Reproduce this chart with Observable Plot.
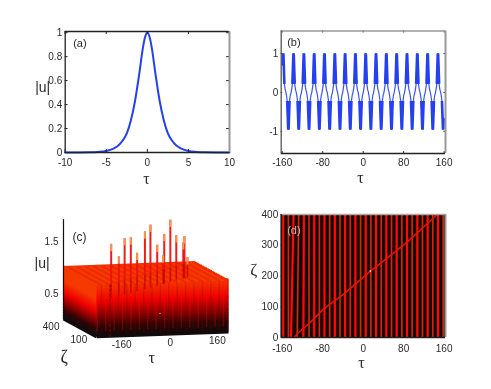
<!DOCTYPE html>
<html>
<head>
<meta charset="utf-8">
<script src="https://cdn.jsdelivr.net/npm/d3@7"></script>
<script src="https://cdn.jsdelivr.net/npm/@observablehq/plot@0.6"></script>
<style>
html,body{margin:0;padding:0;background:#fff}
#chart{position:relative;width:491px;height:389px;overflow:hidden}
#chart>svg{position:absolute;filter:blur(0.3px);background:transparent}
</style>
</head>
<body>
<div id="chart"></div>
<script>
// (a) soliton profile
const tauA = [-10,-7,-6,-5,-4,-3.5,-3,-2.5,-2,-1.5,-1,-0.5,-0.25,0,0.25,0.5,1,1.5,2,2.5,3,3.5,4,5,6,7,10];
const uA   = [0,0.002,0.005,0.013,0.037,0.06,0.1,0.16,0.27,0.43,0.65,0.89,0.97,1,0.97,0.89,0.65,0.43,0.27,0.16,0.1,0.06,0.037,0.013,0.005,0.002,0];
const xTicksA = [-10,-5,0,5,10];
const yTicksA = [0,0.2,0.4,0.6,0.8,1];

// (b) periodic wave: positions of the alternating maxima and minima, and one lobe's shape
const extremes = [-158,-147.8,-137.6,-127.4,-117.2,-107,-96.8,-86.6,-76.5,-66.2,-56,-45.8,-35.7,-25.5,-15.3,-5.1,5,15.2,25.4,35.6,45.8,56,66.2,76.4,86.6,96.8,107,117.2,127.4,137.6,147.8,158];
const lobeOffset = [-5.1,-4,-3,-2.3,-1.1,-0.4,0,0.4,1.1,2.3,3,4];
const lobeValue  = [-0.02,0.06,0.15,0.22,0.7,0.98,1,0.98,0.7,0.22,0.15,0.06];
const xTicksB = [-160,-80,0,80,160];
const yTicksB = [-1,0,1];

// (c) collisions: spikes along the moving soliton
const spikeTau  = [-120,-94,-74,-53,-31.5,-5,14,37,57.5,61,82,102,126,130,140];
const spikeZeta = [22,59,89,119,150,188,216,249,279,284,315,343,378,384,398];
const spikeU    = [1.77,1.49,1.81,1.79,1.46,1.83,1.93,1.51,1.27,1.68,1.92,1.59,1.42,1.53,1.11];
const levels = [0,0.03,0.06,0.09,0.12,0.15,0.18,0.21,0.24,0.27,0.3,0.33,0.36,0.39,0.42,0.45,0.48,0.51,0.54,0.57,0.6,0.63,0.66,0.69,0.72,0.75,0.78,0.81,0.84,0.87,0.9,0.93,0.96,1];
const zetaRows = [0,20,40,60,80,100,120,140,160,180,200,220,240,260,280,300,320,340,360,380,400];
const yTicksC = [0.5,1.5];
const zetaLabelsC = [{z:400,t:"400",shift:-4},{z:100,t:"100",shift:-1}];
const tauLabelsC = [{at:-99,t:"-160"},{at:19,t:"0"},{at:133,t:"160"}];

// (d) top view
const lineDrift = [0,0,-5,-3,-1,0,0,0,0,0,0,0,0,0,0,0,0,0,0,0,0,0,0,0,0,0,0,0,0,0,0,0];
const diagTau  = [-137,-127,-104,-78,-38,-5,14.5,54,87,126.6,144];
const diagZeta = [0,17,50,93,142,188,216,267,310,370,397];
const xTicksD = [-160,-80,0,80,160];
const yTicksD = [0,100,200,300,400];

const SANS = "'Liberation Sans',Arial,sans-serif";
const SERIF = "'Liberation Serif','DejaVu Serif',serif";
const INK = "#2a2a2a";
const root = document.getElementById("chart");
function place(svg,left,top){svg.style.left=left+"px";svg.style.top=top+"px";root.appendChild(svg);}
function label(t,frame,dx,dy,size,font,fill){
  return Plot.text([t],{text:d=>d,frameAnchor:frame,dx,dy,fontSize:size,fontFamily:font,fill:fill||INK});
}
function frameMarks(xd,yd,xt,yt,c,tx,ty){
  return [
    Plot.ruleX(xt,{y1:yd[0],y2:yd[0]+ty,stroke:"#222"}),
    Plot.ruleX(xt,{y1:yd[1],y2:yd[1]-ty,stroke:"#222"}),
    Plot.ruleY(yt,{x1:xd[0],x2:xd[0]+tx,stroke:"#222"}),
    Plot.ruleY(yt,{x1:xd[1],x2:xd[1]-tx,stroke:"#222"}),
    Plot.ruleY([yd[1]],{stroke:c.top,strokeWidth:1.3}),
    Plot.ruleX([xd[1]],{stroke:c.right,strokeWidth:2}),
    Plot.ruleX([xd[0]],{stroke:c.left,strokeWidth:1.3}),
    Plot.ruleY([yd[0]],{stroke:c.bottom,strokeWidth:1.3})
  ];
}
function axes(xt,yt,pad){
  return [
    Plot.axisX(xt,{anchor:"bottom",tickSize:0,tickPadding:pad,label:null,tickFormat:d=>d,fontSize:10,fontFamily:SANS,fill:INK}),
    Plot.axisY(yt,{anchor:"left",tickSize:0,tickPadding:3,label:null,tickFormat:d=>d,fontSize:10,fontFamily:SANS,fill:INK})
  ];
}

// ---------- (a)
const xdA=[-10,10], ydA=[0,1.01];
place(Plot.plot({
  width:245,height:180,marginLeft:64.7,marginRight:16,marginTop:21,marginBottom:38,
  x:{domain:xdA},y:{domain:ydA},
  marks:[
    ...axes(xTicksA,yTicksA,6),
    Plot.line(tauA,{x:d=>d,y:(d,i)=>uA[i],stroke:"#2440f0",strokeWidth:2,curve:"monotone-x"}),
    ...frameMarks(xdA,ydA,xTicksA,yTicksA,{top:"#222",right:"#999",left:"#222",bottom:"#222"},0.35,0.025),
    label("(a)","top-left",8,8,11,SANS),
    label("|u|","left",-30,-4,14,SANS),
    label("τ","bottom",-1,31,16,SERIF)
  ]
}),0,10);

// ---------- (b)
const wave=[];
extremes.forEach((c,i)=>{
  const s=i%2===0?1:-1, amp=s>0?1:0.95;
  lobeOffset.forEach((o,j)=>{
    const v=lobeValue[j];
    wave.push({t:c+o,u:s*(v>0.5?amp*v:v),spike:i,thick:Math.abs(v)>=0.22});
  });
});
const waveIn=wave.filter(d=>d.t>=-160&&d.t<=160);
const xdB=[-162,162.7], ydB=[-1.57,1.58];
place(Plot.plot({
  width:215,height:180,marginLeft:35.7,marginRight:15,marginTop:20.5,marginBottom:37,
  x:{domain:xdB},y:{domain:ydB},
  marks:[
    ...axes(xTicksB,yTicksB,5),
    Plot.line(waveIn,{x:"t",y:"u",stroke:"#3a55f5",strokeWidth:1.2}),
    Plot.line(waveIn.filter(d=>d.thick),{x:"t",y:"u",z:"spike",stroke:"#2440f0",strokeWidth:2.6,strokeLinecap:"butt",strokeLinejoin:"miter"}),
    ...frameMarks(xdB,ydB,xTicksB,yTicksB,{top:"#999",right:"#999",left:"#555",bottom:"#222"},3,0.05),
    label("(b)","top-left",6,7,11,SANS),
    label("τ","bottom",-3,29,16,SERIF)
  ]
}),245,10);

// ---------- (c) oblique view: tau and zeta sheared onto the page
const px=(t,z)=>t-z*0.2;
const py=(t,z,u)=>u+(t+160)*0.0003+z*0.000865;
const evenT=extremes.filter((d,i)=>i%2===0), oddT=extremes.filter((d,i)=>i%2===1);
const spikes=spikeTau.map((t,i)=>({t,z:spikeZeta[i],u:spikeU[i]}));
const lk=(data,f,o)=>Plot.link(data,{
  x1:d=>px(f(d).t1,f(d).z1),y1:d=>py(f(d).t1,f(d).z1,f(d).u1),
  x2:d=>px(f(d).t2,f(d).z2),y2:d=>py(f(d).t2,f(d).z2,f(d).u2),...o});
const faceLevels=levels.slice().reverse();
place(Plot.plot({
  width:245,height:180,margin:0,
  x:{domain:[-392.7,201.2],axis:null},
  y:{domain:[-0.923,2.538],axis:null},
  color:{type:"linear",domain:[0,0.19,0.38,0.67,1],range:["#100a0a","#300505","#800000","#ee0000","#f53a00"]},
  marks:[
    // left and front faces coloured by height; low bands are drawn last so the bottom edge stays clean
    lk(faceLevels,u=>({t1:-160,z1:0,u1:u+0.012,t2:-160,z2:400,u2:u+0.012}),{stroke:u=>Math.min(1,u*1.4),strokeWidth:3,strokeLinecap:"butt"}),
    lk(faceLevels,u=>({t1:-160,z1:0,u1:u+0.012,t2:160,z2:0,u2:u+0.012}),{stroke:u=>u,strokeWidth:3,strokeLinecap:"butt"}),
    // top surface
    lk(zetaRows,z=>({t1:-160,z1:z,u1:1,t2:160,z2:z,u2:1}),{stroke:"#f23200",strokeWidth:3,strokeLinecap:"butt"}),
    lk(evenT,t=>({t1:t,z1:0,u1:1,t2:t,z2:400,u2:1}),{stroke:"#ff5000",strokeWidth:1.6,strokeOpacity:0.35}),
    lk(oddT,t=>({t1:t,z1:0,u1:1,t2:t,z2:400,u2:1}),{stroke:"#e62000",strokeWidth:1.6,strokeOpacity:0.35}),
    // front stripes
    lk(evenT,t=>({t1:t,z1:0,u1:0.12,t2:t,z2:0,u2:1}),{stroke:"#ff1000",strokeWidth:1.4,strokeOpacity:0.25}),
    lk(oddT,t=>({t1:t,z1:0,u1:0.05,t2:t,z2:0,u2:1}),{stroke:"#700000",strokeWidth:1.4,strokeOpacity:0.22}),
    // dashed line on the front face
    lk([-127],t=>({t1:t,z1:0,u1:0,t2:t,z2:0,u2:1}),{stroke:"#8a0000",strokeWidth:1,strokeDasharray:"3,2"}),
    // track of the moving soliton
    Plot.line(diagTau,{x:(d,i)=>px(d,diagZeta[i]),y:(d,i)=>py(d,diagZeta[i],1),stroke:"#e62a00",strokeWidth:1}),
    // spikes
    lk(spikes,s=>({t1:s.t,z1:s.z,u1:0.72,t2:s.t,z2:s.z,u2:1}),{stroke:"#c80000",strokeWidth:1.6,strokeOpacity:0.8}),
    lk(spikes,s=>({t1:s.t,z1:s.z,u1:1,t2:s.t,z2:s.z,u2:s.u}),{stroke:"#ee1010",strokeWidth:2,strokeOpacity:0.95,strokeLinecap:"butt"}),
    lk(spikes,s=>({t1:s.t,z1:s.z,u1:s.u-0.14,t2:s.t,z2:s.z,u2:s.u}),{stroke:"#ffa850",strokeWidth:2,strokeOpacity:0.85,strokeLinecap:"butt"}),
    Plot.dot([{t:-6,z:0,u:0.42}],{x:d=>px(d.t,d.z),y:d=>py(d.t,d.z,d.u),r:0.6,fill:"#fff"}),
    // axis
    lk([0],()=>({t1:-160,z1:400,u1:0,t2:-160,z2:400,u2:1.93}),{stroke:"#111",strokeWidth:1.2}),
    Plot.text(yTicksC,{x:px(-160,400),y:d=>py(-160,400,d),text:d=>d.toFixed(1),textAnchor:"end",dx:-5,fontSize:10,fontFamily:SANS,fill:INK}),
    Plot.text(zetaLabelsC.slice(0,1),{x:d=>px(-160,d.z),y:d=>py(-160,d.z,0),text:"t",dx:zetaLabelsC[0].shift,dy:7,textAnchor:"end",fontSize:10,fontFamily:SANS,fill:INK}),
    Plot.text(zetaLabelsC.slice(1),{x:d=>px(-160,d.z),y:d=>py(-160,d.z,0),text:"t",dx:zetaLabelsC[1].shift,dy:7,textAnchor:"end",fontSize:10,fontFamily:SANS,fill:INK}),
    Plot.text(tauLabelsC,{x:d=>px(d.at,0),y:d=>py(d.at,0,0),text:"t",dy:8,fontSize:10,fontFamily:SANS,fill:INK}),
    label("(c)","top-left",72,27,12,SANS),
    label("|u|","top-left",34,53,14,SANS),
    label("ζ","top-left",60,145,18,SERIF),
    label("τ","top-left",148,146,16,SERIF)
  ]
}),0,205);

// ---------- (d)
const xdD=[-162,162.7], ydD=[0,400];
const dLines=extremes.map((t,i)=>({bottom:t+lineDrift[i],top:t,i}));
place(Plot.plot({
  width:220,height:180,marginLeft:40.7,marginRight:15,marginTop:14,marginBottom:43,
  x:{domain:xdD},y:{domain:ydD},
  marks:[
    ...axes(xTicksD,yTicksD,7),
    Plot.rectY([0],{x1:xdD[0],x2:xdD[1],y1:0,y2:400,fill:"#0c0404"}),
    Plot.link(dLines,{x1:"bottom",x2:"top",y1:0,y2:400,stroke:"#5a0a00",strokeWidth:3.6,strokeOpacity:0.35}),
    Plot.link(dLines.filter(d=>d.i%2===1),{x1:"bottom",x2:"top",y1:0,y2:400,stroke:"#c82c08",strokeWidth:1.6}),
    Plot.link(dLines.filter(d=>d.i%2===0),{x1:"bottom",x2:"top",y1:0,y2:400,stroke:"#ff0a00",strokeWidth:2.2}),
    Plot.line(diagTau,{x:d=>d,y:(d,i)=>diagZeta[i],stroke:"#e81400",strokeWidth:1.5}),
    Plot.dot([{t:14,z:216}],{x:"t",y:"z",r:0.8,fill:"#fff"}),
    ...frameMarks(xdD,ydD,xTicksD,yTicksD,{top:"#aaa",right:"#999",left:"#222",bottom:"#222"},2,6),
    label("(d)","top-left",6,12,11,SANS,"#b8b8b8"),
    label("ζ","top-left",-31,48,17,SERIF),
    label("τ","bottom",-2,30,16,SERIF)
  ]
}),240,200);
</script>
</body>
</html>
